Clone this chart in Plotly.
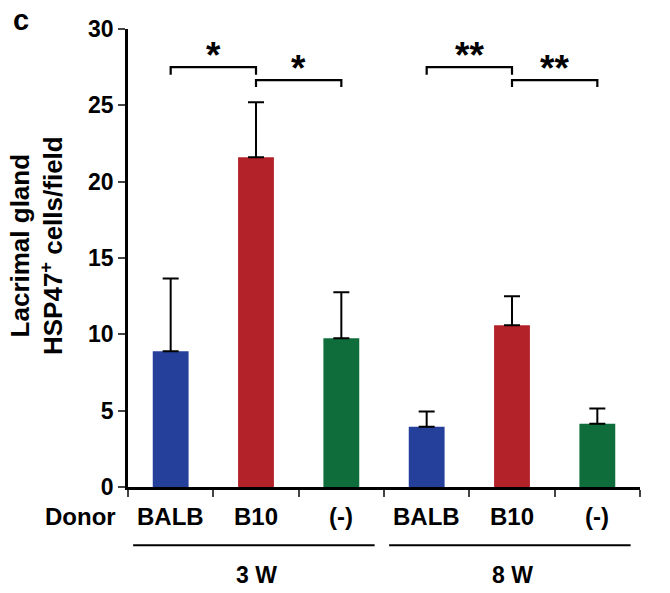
import plotly.graph_objects as go

categories = ["BALB", "B10", "(-)", "BALB", "B10", "(-)"]
groups = ["3 W", "8 W"]
means = [8.9, 21.6, 9.75, 3.95, 10.6, 4.15]
errors = [4.75, 3.6, 3.0, 1.0, 1.9, 1.0]
colors = ["#24409b", "#b32129", "#0f6c3b", "#24409b", "#b32129", "#0f6c3b"]
y_ticks = [0, 5, 10, 15, 20, 25, 30]
# significance brackets: (x_start, x_end, level, tick_bottom, label)
brackets = [(0, 1, 27.5, 27.0, "*"), (1, 2, 26.65, 26.2, "*"),
            (3, 4, 27.5, 27.0, "**"), (4, 5, 26.65, 26.2, "**")]

FONT = "Liberation Sans, Arial, sans-serif"
x = list(range(len(categories)))

fig = go.Figure()
fig.add_trace(go.Bar(
    x=x, y=means, width=0.42,
    marker=dict(color=colors, line=dict(width=0)),
    error_y=dict(type="data", array=errors, arrayminus=[0]*len(errors), symmetric=False,
                 color="black", thickness=2, width=8),
    showlegend=False,
))

shapes = []
annotations = []
for x0, x1, lvl, bot, lab in brackets:
    shapes.append(dict(type="path", xref="x", yref="y",
                       path=f"M {x0} {bot} L {x0} {lvl} L {x1} {lvl} L {x1} {bot}",
                       line=dict(color="black", width=2.2)))
    annotations.append(dict(x=(x0 + x1) / 2, y=lvl + 0.75, xref="x", yref="y", text=f"<b>{lab}</b>",
                            showarrow=False, yanchor="middle",
                            font=dict(family=FONT, size=37, color="black")))

# category labels
for i, c in enumerate(categories):
    annotations.append(dict(x=i, y=-0.0655, xref="x", yref="paper", text=f"<b>{c}</b>",
                            showarrow=False, yanchor="middle",
                            font=dict(family=FONT, size=24, color="black")))
annotations.append(dict(x=-0.02, y=-0.0655, xref="paper", yref="paper", text="<b>Donor</b>",
                        showarrow=False, xanchor="right", yanchor="middle",
                        font=dict(family=FONT, size=24, color="black")))
# group lines and labels
for gi, g in enumerate(groups):
    a, b = gi * 3, gi * 3 + 2
    shapes.append(dict(type="line", xref="x", yref="paper", x0=a - 0.44, x1=b + 0.39,
                       y0=-0.127, y1=-0.127, line=dict(color="black", width=2)))
    annotations.append(dict(x=(a + b) / 2, y=-0.192, xref="x", yref="paper", text=f"<b>{g}</b>",
                            showarrow=False, yanchor="middle",
                            font=dict(family=FONT, size=23, color="black")))

annotations.append(dict(x=-0.178, y=0.528, xref="paper", yref="paper",
                        text="<b>Lacrimal gland</b><br><b>HSP47<sup>+</sup> cells/field</b>",
                        textangle=-90, showarrow=False, xanchor="center", yanchor="middle",
                        font=dict(family=FONT, size=26, color="black")))
annotations.append(dict(x=-0.209, y=1.02, xref="paper", yref="paper", text="<b>c</b>",
                        showarrow=False, xanchor="center", yanchor="middle",
                        font=dict(family=FONT, size=29, color="black")))

fig.update_layout(
    width=670, height=593,
    margin=dict(l=128, r=30, t=29, b=106),
    plot_bgcolor="white", paper_bgcolor="white",
    font=dict(family=FONT, size=20, color="black"),
    shapes=shapes, annotations=annotations,
    hovermode=False,
    xaxis=dict(range=[-0.5, 5.5], tickvals=[i - 0.5 for i in range(len(categories) + 1)],
               showticklabels=False, ticks="outside", ticklen=7, tickwidth=2,
               showline=True, linecolor="black", linewidth=2.5, showgrid=False, zeroline=False),
    yaxis=dict(range=[0, 30], tickvals=y_ticks, ticktext=[f"<b>{v}</b>" for v in y_ticks],
               ticks="outside", ticklen=7, tickwidth=2, showline=True, linecolor="black",
               linewidth=2.5, showgrid=False, zeroline=False,
               tickfont=dict(family=FONT, size=23, color="black")),
)

fig.write_html("out.html", config={"displayModeBar": False},
               post_script="document.body.style.margin='0';document.body.style.overflow='hidden';")
